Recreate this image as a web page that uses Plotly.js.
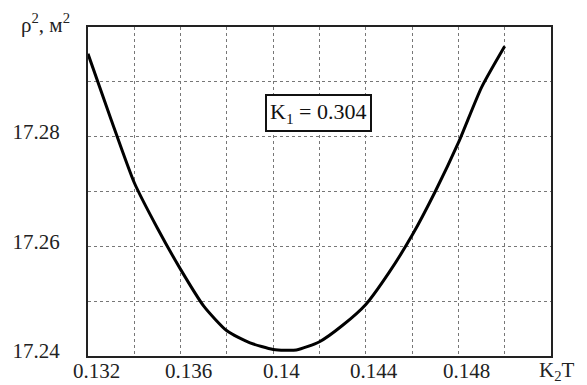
<!DOCTYPE html>
<html>
<head>
<meta charset="utf-8">
<script src="https://cdn.plot.ly/plotly-3.0.1.min.js"></script>
<style>html,body{margin:0;padding:0;background:#fff;}#chart{width:587px;height:385px;}</style>
</head>
<body>
<div id="chart"></div>
<script>
// K2T values
const k2t = [0.132, 0.133, 0.134, 0.135, 0.136, 0.137, 0.138, 0.139, 0.140, 0.141,
             0.142, 0.143, 0.144, 0.145, 0.146, 0.147, 0.148, 0.149, 0.150];
// rho^2 values, m^2
const rho2 = [17.2951, 17.2831, 17.2716, 17.2633, 17.2558, 17.2491, 17.2446, 17.2424, 17.2412, 17.2411,
              17.2426, 17.2456, 17.2494, 17.2552, 17.2620, 17.2700, 17.2789, 17.2890, 17.2965];

const xTickVals = [0.132, 0.136, 0.140, 0.144, 0.148];
const xTickText = ['0.132', '0.136', '0.14', '0.144', '0.148'];
const yTickVals = [17.24, 17.26, 17.28];
const yTickText = ['17.24', '17.26', '17.28'];

const boxLabel = 'K<sub>1</sub> = 0.304';
const boxX = 0.14196, boxY = 17.2843;

const serif = 'Liberation Serif, Times New Roman, serif';

const trace = {
  x: k2t, y: rho2, type: 'scatter', mode: 'lines',
  line: {color: '#000', width: 3, shape: 'spline', smoothing: 0.6}, hoverinfo: 'skip'
};

const pw = 587 - 88 - 36, ph = 385 - 27 - 29;

const annotations = [
  {x: boxX, y: boxY, xref: 'x', yref: 'y', text: boxLabel, showarrow: false,
   font: {family: serif, size: 22, color: '#111'},
   bordercolor: '#111', borderwidth: 2, borderpad: 3, bgcolor: '#fff'},
  {xref: 'paper', yref: 'paper', x: (45 - 88) / pw, y: (356 - 23) / ph,
   xanchor: 'center', yanchor: 'middle',
   text: 'ρ<sup>2</sup>, м<sup>2</sup>', showarrow: false,
   font: {family: serif, size: 21, color: '#222'}},
  {xref: 'paper', yref: 'paper', x: (557 - 88) / pw, y: (356 - 371) / ph,
   xanchor: 'center', yanchor: 'middle',
   text: 'K<sub>2</sub>T', showarrow: false,
   font: {family: serif, size: 21, color: '#222'}}
];
// x tick labels drawn as annotations tied to the x axis (for exact vertical placement)
xTickVals.forEach((v, i) => {
  annotations.push({x: v, xref: 'x', y: 0, yref: 'paper', text: xTickText[i],
    showarrow: false, xanchor: 'center', yanchor: 'middle', xshift: 8, yshift: -15,
    font: {family: serif, size: 21, color: '#222'}});
});

const gridStyle = {showgrid: true, gridcolor: '#777', griddash: 'dot', gridwidth: 1};

const layout = {
  width: 587, height: 385,
  margin: {l: 88, r: 36, t: 27, b: 29},
  paper_bgcolor: '#fff', plot_bgcolor: '#fff',
  showlegend: false,
  font: {family: serif, size: 21, color: '#222'},
  xaxis: Object.assign({
    range: [0.132, 0.152], tickmode: 'array', tickvals: xTickVals, showticklabels: false,
    showline: true, mirror: true, linecolor: '#222', linewidth: 2,
    zeroline: false, ticks: '',
    minor: Object.assign({tick0: 0.132, dtick: 0.002, ticks: ''}, gridStyle)
  }, gridStyle),
  yaxis: Object.assign({
    range: [17.24, 17.30], tickmode: 'array', tickvals: yTickVals, ticktext: yTickText,
    showline: true, mirror: true, linecolor: '#222', linewidth: 2,
    zeroline: false, ticks: '', ticklabelstandoff: 22, ticklabelshift: -5,
    tickfont: {family: serif, size: 21, color: '#222'},
    minor: Object.assign({tick0: 17.24, dtick: 0.01, ticks: ''}, gridStyle)
  }, gridStyle),
  annotations: annotations
};

Plotly.newPlot('chart', [trace], layout, {staticPlot: true, displayModeBar: false});
</script>
</body>
</html>
